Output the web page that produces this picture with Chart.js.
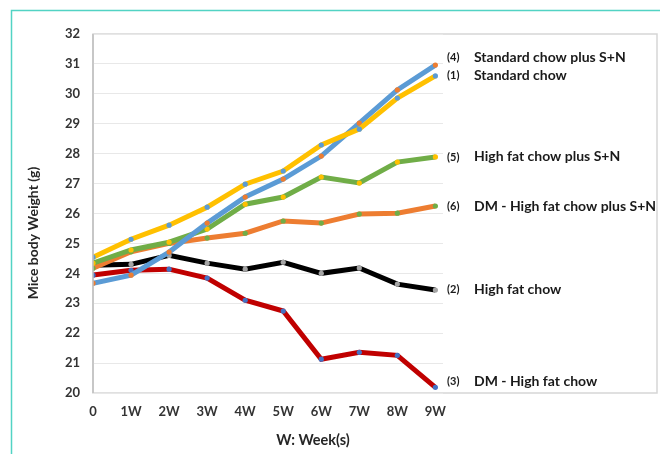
<!DOCTYPE html>
<html>
<head>
<meta charset="utf-8">
<script src="https://cdn.jsdelivr.net/npm/chart.js@4/dist/chart.umd.min.js"></script>
<style>
html,body{margin:0;padding:0;background:#fff;}
#wrap{width:660px;height:454px;position:relative;}
</style>
</head>
<body>
<div id="wrap"><canvas id="c" width="660" height="454"></canvas></div>
<script>
// ---- data ----
const weekLabels = ["0","1W","2W","3W","4W","5W","6W","7W","8W","9W"];
const yTicks = [20,21,22,23,24,25,26,27,28,29,30,31,32];

const standardChow          = [24.54,25.14,25.61,26.21,26.98,27.42,28.29,28.82,29.86,30.60]; // (1)
const highFatChow           = [24.27,24.30,24.60,24.34,24.14,24.37,24.00,24.18,23.64,23.44]; // (2)
const dmHighFatChow         = [23.94,24.10,24.14,23.84,23.10,22.74,21.13,21.36,21.26,20.19]; // (3)
const standardChowSN        = [23.67,23.94,24.71,25.68,26.55,27.15,27.92,29.02,30.13,30.96]; // (4)
const highFatChowSN         = [24.34,24.78,25.04,25.48,26.31,26.55,27.22,27.02,27.72,27.89]; // (5)
const dmHighFatChowSN       = [24.17,24.72,25.00,25.18,25.34,25.75,25.68,25.98,26.01,26.25]; // (6)

const seriesNumbers = ["(4)","(1)","(5)","(6)","(2)","(3)"];
const seriesNames = ["Standard chow plus S+N","Standard chow","High fat chow plus S+N","DM - High fat chow plus S+N","High fat chow","DM - High fat chow"];
const seriesLabelValues = [31.23,30.63,27.89,26.25,23.47,20.40];

const yTitle = "Mice body Weight (g)";
const xTitle = "W: Week(s)";

// ---- chart ----
const toPts = arr => arr.map((v,i)=>({x:i,y:v}));
function ds(label, data, line, marker){
  return {label, data:toPts(data), borderColor:line, backgroundColor:line, borderWidth:5,
    pointRadius:2.6, pointBorderWidth:0, pointBackgroundColor:marker, pointHoverRadius:2.6, tension:0};
}
const FONT = "Lato, 'Open Sans', sans-serif";

const framePlugin = {
  id:'frame',
  beforeDraw(chart){
    const ctx = chart.ctx, a = chart.chartArea;
    ctx.save();
    // teal outer border
    ctx.strokeStyle = '#52d3c4'; ctx.lineWidth = 1.5;
    ctx.beginPath(); ctx.moveTo(11.5,454); ctx.lineTo(11.5,10.5); ctx.lineTo(660,10.5); ctx.stroke();
    // plot box
    ctx.strokeStyle = '#d6d6d6'; ctx.lineWidth = 1.5;
    ctx.strokeRect(a.left, a.top, 657 - a.left, a.bottom - a.top);
    ctx.restore();
  },
  afterDatasetsDraw(chart){
    const ctx = chart.ctx, a = chart.chartArea, ys = chart.scales.y;
    ctx.save();
    // left axis line
    ctx.strokeStyle = '#bfbfbf'; ctx.lineWidth = 1.5;
    ctx.beginPath(); ctx.moveTo(a.left, a.top); ctx.lineTo(a.left, a.bottom); ctx.stroke();
    // series labels
    ctx.textBaseline = 'middle'; ctx.fillStyle = '#1a1a1a';
    seriesNames.forEach((n,i)=>{
      const y = ys.getPixelForValue(seriesLabelValues[i]);
      ctx.font = "bold 11px " + FONT; ctx.textAlign = 'left';
      ctx.fillText(seriesNumbers[i], 447, y);
      ctx.font = "bold 14px " + FONT;
      ctx.fillText(n, 474, y);
    });
    // y title
    ctx.save();
    ctx.translate(33, 233); ctx.rotate(-Math.PI/2);
    ctx.font = "bold 14px " + FONT; ctx.textAlign = 'center'; ctx.textBaseline = 'middle'; ctx.fillStyle = '#262626';
    ctx.fillText(yTitle, 0, 0);
    ctx.restore();
    // x title
    ctx.font = "bold 14.5px " + FONT; ctx.textAlign = 'center'; ctx.textBaseline = 'middle'; ctx.fillStyle = '#262626';
    ctx.fillText(xTitle, 313, 440);
    ctx.restore();
  }
};

new Chart(document.getElementById('c'), {
  type:'line',
  data:{
    datasets:[
      ds("(1) Standard chow", standardChow, '#ffc000', '#5b9bd5'),
      ds("(4) Standard chow plus S+N", standardChowSN, '#5b9bd5', '#ed7d31'),
      ds("(5) High fat chow plus S+N", highFatChowSN, '#70ad47', '#ffc000'),
      ds("(6) DM - High fat chow plus S+N", dmHighFatChowSN, '#ed7d31', '#70ad47'),
      ds("(2) High fat chow", highFatChow, '#000000', '#a5a5a5'),
      ds("(3) DM - High fat chow", dmHighFatChow, '#c00000', '#4472c4'),
    ]
  },
  options:{
    responsive:false, animation:false, devicePixelRatio:1,
    layout:{padding:{top:34, right:217, left:0, bottom:0}},
    plugins:{legend:{display:false}, tooltip:{enabled:false}},
    scales:{
      x:{type:'linear', min:0, max:9.2,
        afterBuildTicks: s => { s.ticks = weekLabels.map((_,i)=>({value:i})); },
        afterFit: s => { s.height = 61; },
        grid:{display:false, drawTicks:false}, border:{display:false},
        ticks:{padding:11, color:'#333333', font:{family:FONT, size:13, weight:'bold'},
          callback: v => weekLabels[v] ?? ''}
      },
      y:{min:20, max:32,
        afterBuildTicks: s => { s.ticks = yTicks.map(v=>({value:v})); },
        afterFit: s => { s.width = 93; },
        grid:{color:'#e8e8e8', lineWidth:1, drawTicks:false}, border:{display:false},
        ticks:{padding:13, color:'#333333', font:{family:FONT, size:13, weight:'bold'}}
      }
    }
  },
  plugins:[framePlugin]
});
</script>
</body>
</html>
